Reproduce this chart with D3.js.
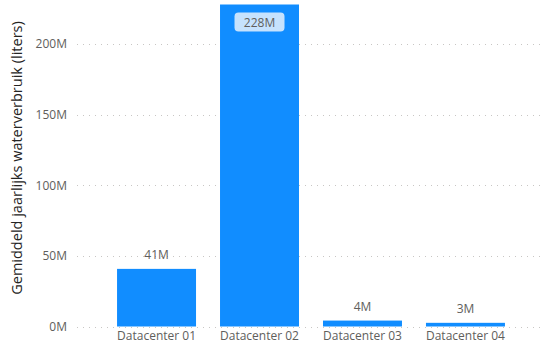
<!DOCTYPE html>
<html>
<head>
<meta charset="utf-8">
<script src="https://cdn.jsdelivr.net/npm/d3@7"></script>
<style>
  body { margin: 0; background: #fff; }
  text { font-family: "Open Sans", "Noto Sans", sans-serif; }
</style>
</head>
<body>
<svg id="chart" width="547" height="351"></svg>
<script>
// data
const categories = ["Datacenter 01", "Datacenter 02", "Datacenter 03", "Datacenter 04"];
const values = [40.8, 228, 4.2, 2.6]; // millions of liters
const yTicks = [0, 50, 100, 150, 200];

const svg = d3.select("#chart");
const yTop = 4.5, yBase = 326.5;

const x = d3.scaleBand()
  .domain(categories)
  .range([105, 517])
  .paddingInner(0.233)
  .paddingOuter(0.117);

const y = d3.scaleLinear()
  .domain([0, 228])
  .range([yBase, yTop]);

// gridlines
svg.selectAll("line.grid")
  .data(yTicks)
  .join("line")
  .attr("class", "grid")
  .attr("x1", 77)
  .attr("x2", 542)
  .attr("y1", d => Math.round(y(d)) + 0.5)
  .attr("y2", d => Math.round(y(d)) + 0.5)
  .attr("stroke", "#c8c6c4")
  .attr("stroke-width", 1)
  .attr("stroke-dasharray", "1,5");

// y axis labels
const yAxis = svg.append("g")
  .attr("transform", "translate(67,0)")
  .call(d3.axisLeft(y).tickValues(yTicks).tickSize(0).tickPadding(0).tickFormat(d => d + "M"));
yAxis.select(".domain").remove();
yAxis.selectAll("text")
  .attr("fill", "#605e5c")
  .style("font-size", "12px")
  .style("font-family", "'Open Sans', sans-serif");

// bars
svg.selectAll("rect.bar")
  .data(categories)
  .join("rect")
  .attr("class", "bar")
  .attr("x", d => x(d))
  .attr("width", x.bandwidth())
  .attr("y", (d, i) => y(values[i]))
  .attr("height", (d, i) => yBase - y(values[i]))
  .attr("fill", "#118dff");

// x axis labels
const xAxis = svg.append("g")
  .attr("transform", `translate(0,${yBase})`)
  .call(d3.axisBottom(x).tickSize(0).tickPadding(5));
xAxis.select(".domain").remove();
xAxis.selectAll("text")
  .attr("fill", "#605e5c")
  .style("font-size", "12px")
  .style("font-family", "'Open Sans', sans-serif");

// data labels
const fmt = v => Math.round(v) + "M";
categories.forEach((c, i) => {
  const cx = x(c) + x.bandwidth() / 2;
  const top = y(values[i]);
  const inside = top - 22 < yTop;
  if (inside) {
    const ly = top + 18;
    svg.append("rect")
      .attr("x", cx - 25)
      .attr("y", ly - 10)
      .attr("width", 50)
      .attr("height", 19)
      .attr("rx", 4)
      .attr("fill", "#c6e2fd");
    svg.append("text")
      .attr("x", cx)
      .attr("y", ly + 4)
      .attr("text-anchor", "middle")
      .attr("fill", "#605e5c")
      .style("font-size", "12px")
      .text(fmt(values[i]));
  } else {
    svg.append("text")
      .attr("x", cx)
      .attr("y", top - 10)
      .attr("text-anchor", "middle")
      .attr("fill", "#605e5c")
      .style("font-size", "12px")
      .text(fmt(values[i]));
  }
});

// y axis title
svg.append("text")
  .attr("transform", "translate(22,158) rotate(-90)")
  .attr("text-anchor", "middle")
  .attr("fill", "#252423")
  .style("font-size", "14.5px")
  .text("Gemiddeld jaarlijks waterverbruik (liters)");
</script>
</body>
</html>
